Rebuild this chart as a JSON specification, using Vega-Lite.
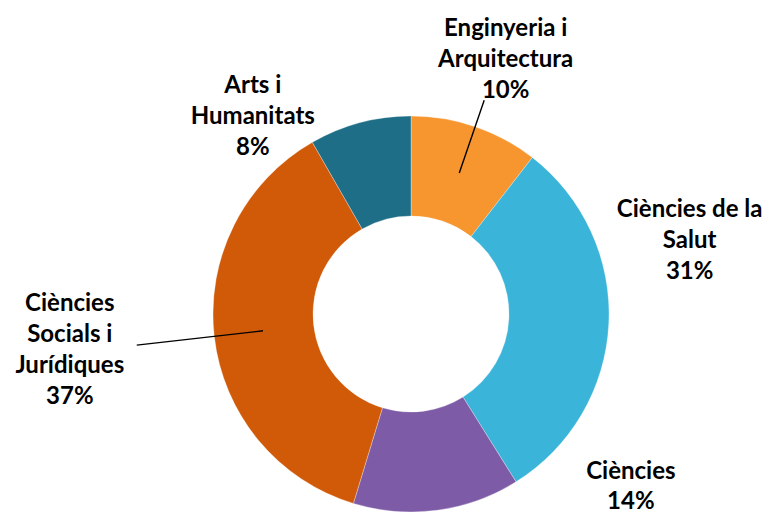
{
  "$schema": "https://vega.github.io/schema/vega-lite/v6.json",
  "width": 396,
  "height": 396,
  "autosize": {"type": "none"},
  "padding": {"left": 213, "top": 116, "right": 161, "bottom": 3},
  "background": "white",
  "config": {"view": {"stroke": null}},
  "data": {
    "values": [
      {"area": "Enginyeria i Arquitectura", "label": "Enginyeria i\nArquitectura\n10%", "pct": 10.5, "idx": 1},
      {"area": "Ciències de la Salut", "label": "Ciències de la\nSalut\n31%", "pct": 30.6, "idx": 2},
      {"area": "Ciències", "label": "Ciències\n14%", "pct": 13.6, "idx": 3},
      {"area": "Ciències Socials i Jurídiques", "label": "Ciències\nSocials i\nJurídiques\n37%", "pct": 37.0, "idx": 4},
      {"area": "Arts i Humanitats", "label": "Arts i\nHumanitats\n8%", "pct": 8.3, "idx": 5}
    ]
  },
  "encoding": {
    "theta": {"field": "pct", "type": "quantitative", "stack": true},
    "order": {"field": "idx", "type": "quantitative"},
    "detail": {"field": "area", "type": "nominal"}
  },
  "layer": [
    {
      "mark": {"type": "arc", "innerRadius": 98, "outerRadius": 198, "stroke": "#ffffff", "strokeWidth": 0.6, "strokeOpacity": 0.5},
      "encoding": {
        "color": {
          "field": "area",
          "type": "nominal",
          "scale": {
            "domain": ["Enginyeria i Arquitectura", "Ciències de la Salut", "Ciències", "Ciències Socials i Jurídiques", "Arts i Humanitats"],
            "range": ["#F7962F", "#3AB4D8", "#7D5BA6", "#D05A08", "#1E6E87"]
          },
          "legend": null
        }
      }
    },
    {
      "mark": {"type": "arc", "padAngle": 3.14, "innerRadius": 149, "outerRadius": 226, "stroke": "black", "strokeWidth": 1.4, "fillOpacity": 0, "fill": "white"},
      "encoding": {
        "strokeOpacity": {"condition": {"test": "datum.area === 'Enginyeria i Arquitectura'", "value": 1}, "value": 0}
      }
    },
    {
      "mark": {"type": "arc", "padAngle": 3.14, "innerRadius": 149, "outerRadius": 276, "stroke": "black", "strokeWidth": 1.4, "fillOpacity": 0, "fill": "white"},
      "encoding": {
        "strokeOpacity": {"condition": {"test": "datum.area === 'Ciències Socials i Jurídiques'", "value": 1}, "value": 0}
      }
    },
    {
      "mark": {"type": "text", "radius": 280, "dx": 4, "dy": -20, "font": "Lato", "fontSize": 24, "fontWeight": "bold", "lineBreak": "\n", "lineHeight": 31, "align": "center", "baseline": "middle", "color": "black"},
      "encoding": {"text": {"condition": {"test": "datum.area === 'Enginyeria i Arquitectura'", "field": "label"}, "value": ""}}
    },
    {
      "mark": {"type": "text", "radius": 280, "dx": -1, "dy": -118, "font": "Lato", "fontSize": 24, "fontWeight": "bold", "lineBreak": "\n", "lineHeight": 31, "align": "center", "baseline": "middle", "color": "black"},
      "encoding": {"text": {"condition": {"test": "datum.area === 'Ciències de la Salut'", "field": "label"}, "value": ""}}
    },
    {
      "mark": {"type": "text", "radius": 280, "dx": 183, "dy": -120, "font": "Lato", "fontSize": 24, "fontWeight": "bold", "lineBreak": "\n", "lineHeight": 30, "align": "center", "baseline": "middle", "color": "black"},
      "encoding": {"text": {"condition": {"test": "datum.area === 'Ciències'", "field": "label"}, "value": ""}}
    },
    {
      "mark": {"type": "text", "radius": 280, "dx": -63, "dy": -42, "font": "Lato", "fontSize": 24, "fontWeight": "bold", "lineBreak": "\n", "lineHeight": 31, "align": "center", "baseline": "middle", "color": "black"},
      "encoding": {"text": {"condition": {"test": "datum.area === 'Ciències Socials i Jurídiques'", "field": "label"}, "value": ""}}
    },
    {
      "mark": {"type": "text", "radius": 280, "dx": -86, "dy": 43, "font": "Lato", "fontSize": 24, "fontWeight": "bold", "lineBreak": "\n", "lineHeight": 31, "align": "center", "baseline": "middle", "color": "black"},
      "encoding": {"text": {"condition": {"test": "datum.area === 'Arts i Humanitats'", "field": "label"}, "value": ""}}
    }
  ]
}
